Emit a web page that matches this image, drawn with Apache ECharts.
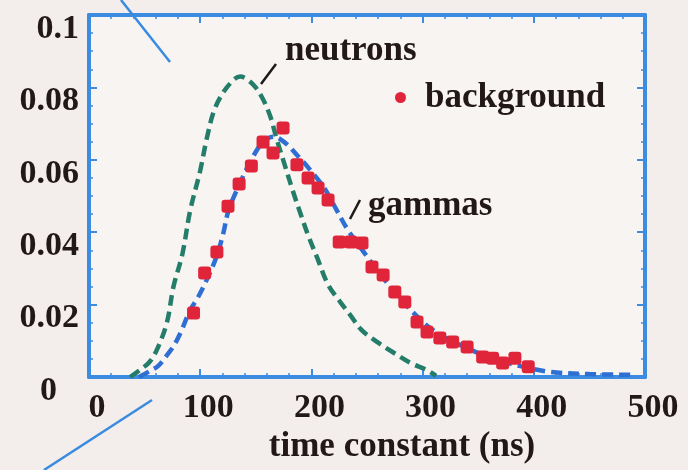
<!DOCTYPE html>
<html>
<head>
<meta charset="utf-8">
<script src="https://cdn.jsdelivr.net/npm/echarts@6/dist/echarts.min.js"></script>
<style>
  html, body { margin: 0; padding: 0; background: #f3eeec; }
  #chart { width: 688px; height: 470px; }
</style>
</head>
<body>
<div id="chart"></div>
<script>
// Pulse-shape distributions: time constant (ns) vs. fraction of events
const neutronCurve = [
  [37, 0], [46, 0.002], [54, 0.004], [61, 0.0075], [70, 0.015], [76, 0.025],
  [84, 0.034], [91, 0.046], [100, 0.057], [106, 0.066], [113, 0.074],
  [124, 0.080], [136, 0.083], [147, 0.081], [156, 0.077], [163, 0.072],
  [169, 0.0655], [176, 0.0586], [183, 0.0517], [190, 0.0453], [197, 0.0392],
  [205, 0.0331], [215, 0.0255], [226, 0.0207], [235, 0.0171], [245, 0.013],
  [259, 0.0097], [273, 0.0069], [289, 0.0039], [304, 0.0019], [312, 0.0003]
];

const gammaCurve = [
  [45, 0], [55, 0.0017], [62, 0.003], [70, 0.006], [76, 0.0085], [82, 0.012],
  [91, 0.0185], [98, 0.022], [107, 0.0276], [115, 0.0335], [121, 0.040],
  [125, 0.0455], [133, 0.0517], [145, 0.0594], [156, 0.0648], [166, 0.0664],
  [176, 0.0648], [188, 0.0610], [200, 0.0568], [212, 0.0520], [222, 0.0465],
  [232, 0.0410], [244, 0.0358], [266, 0.0268], [291, 0.018], [309, 0.013],
  [334, 0.0088], [360, 0.0055], [388, 0.003], [415, 0.0014], [450, 0.0008],
  [492, 0.0006]
];

const backgroundPoints = [
  [94, 0.0177], [104, 0.0287], [115, 0.0345], [125, 0.0472], [135, 0.0533],
  [146, 0.0583], [156.5, 0.0649], [165.5, 0.0619], [174.5, 0.0688],
  [187, 0.0586], [197, 0.0550], [206, 0.0522], [215, 0.0489],
  [225, 0.0373], [235.5, 0.0373], [245.5, 0.0370], [254.5, 0.0304],
  [264.5, 0.0282], [275, 0.0235], [284, 0.0207], [295, 0.0152], [304, 0.0124],
  [315.5, 0.0108], [327, 0.0097], [340, 0.0083], [354, 0.0055], [363, 0.0052],
  [372, 0.0039], [383, 0.0052], [395, 0.0028]
];

const seriesNames = { neutrons: 'neutrons', gammas: 'gammas', background: 'background' };
const xAxisTitle = 'time constant (ns)';

const frameBlue = '#3c8ce1';
const textColor = '#221818';
const font = '"Liberation Serif", "DejaVu Serif", serif';

const chart = echarts.init(document.getElementById('chart'));

const axisLine = { show: true, onZero: false, lineStyle: { color: frameBlue, width: 4 } };
const axisTick = { show: true, inside: true, length: 8, lineStyle: { color: frameBlue, width: 2 } };
function minor(n) {
  return { show: true, splitNumber: n, length: 4, lineStyle: { color: frameBlue, width: 1.5 } };
}

chart.setOption({
  backgroundColor: '#f3eeec',
  animation: false,
  grid: { left: 89, right: 43, top: 15, bottom: 93, show: true,
          backgroundColor: '#f7f4f2', borderWidth: 0 },
  legend: {
    data: [{ name: seriesNames.background, icon: 'circle' }],
    left: 395, top: 80, padding: 0,
    itemWidth: 11, itemHeight: 11,
    textStyle: { fontFamily: font, fontWeight: 'bold', fontSize: 35, color: textColor,
                 padding: [0, 0, 0, 14] }
  },
  xAxis: [
    {
      type: 'value', min: 0, max: 500, interval: 100, position: 'bottom',
      axisLine: axisLine, axisTick: axisTick, minorTick: minor(5), splitLine: { show: false },
      axisLabel: { fontFamily: font, fontWeight: 'bold', fontSize: 34, color: textColor,
                   margin: 14, padding: [0, 0, 0, 16] },
      name: xAxisTitle, nameLocation: 'middle', nameGap: 50,
      nameTextStyle: { fontFamily: font, fontWeight: 'bold', fontSize: 35, color: textColor,
                       padding: [0, 0, 0, 70] }
    },
    {
      type: 'value', min: 0, max: 500, interval: 100, position: 'top',
      axisLine: axisLine, axisTick: axisTick, minorTick: minor(5), splitLine: { show: false },
      axisLabel: { show: false }
    }
  ],
  yAxis: [
    {
      type: 'value', min: 0, max: 0.1, interval: 0.02, position: 'left',
      axisLine: axisLine, axisTick: axisTick, minorTick: minor(4), splitLine: { show: false },
      axisLabel: {
        fontFamily: font, fontWeight: 'bold', fontSize: 34, color: textColor,
        margin: 10, padding: [28, 0, 0, 0],
        formatter: function (v) { return v === 0 ? '{z|0}' : String(+v.toFixed(2)); },
        rich: { z: { fontFamily: font, fontWeight: 'bold', fontSize: 34, color: textColor,
                     padding: [0, 22, 0, 0] } }
      }
    },
    {
      type: 'value', min: 0, max: 0.1, interval: 0.02, position: 'right',
      axisLine: axisLine, axisTick: axisTick, minorTick: minor(4), splitLine: { show: false },
      axisLabel: { show: false }
    }
  ],
  series: [
    {
      name: seriesNames.neutrons, type: 'line', data: neutronCurve,
      smooth: 0.35, showSymbol: false, z: 3,
      lineStyle: { color: '#237d69', width: 4.5, type: [11, 6] }
    },
    {
      name: seriesNames.gammas, type: 'line', data: gammaCurve,
      smooth: 0.35, showSymbol: false, z: 3,
      lineStyle: { color: '#2f6fd4', width: 4.5, type: [11, 6] }
    },
    {
      name: seriesNames.background, type: 'scatter', data: backgroundPoints,
      symbol: 'roundRect', symbolSize: 13, z: 4,
      itemStyle: { color: '#e0243a', opacity: 1 }
    }
  ],
  graphic: [
    { type: 'text', left: 285, top: 33, z: 10,
      style: { text: seriesNames.neutrons, font: 'bold 35px ' + font, fill: textColor } },
    { type: 'line', z: 10, shape: { x1: 276, y1: 64, x2: 261, y2: 84 },
      style: { stroke: '#1a1a1a', lineWidth: 2.5 } },
    { type: 'text', left: 368, top: 188, z: 10,
      style: { text: seriesNames.gammas, font: 'bold 35px ' + font, fill: textColor } },
    { type: 'line', z: 10, shape: { x1: 360, y1: 200, x2: 350, y2: 219 },
      style: { stroke: '#1a1a1a', lineWidth: 2.5 } },
    { type: 'line', z: 10, shape: { x1: 121, y1: 0, x2: 170, y2: 62 },
      style: { stroke: '#3a8be0', lineWidth: 2.5 } },
    { type: 'line', z: 10, shape: { x1: 152, y1: 400, x2: 44, y2: 470 },
      style: { stroke: '#3a8be0', lineWidth: 2.5 } }
  ]
});
</script>
</body>
</html>
